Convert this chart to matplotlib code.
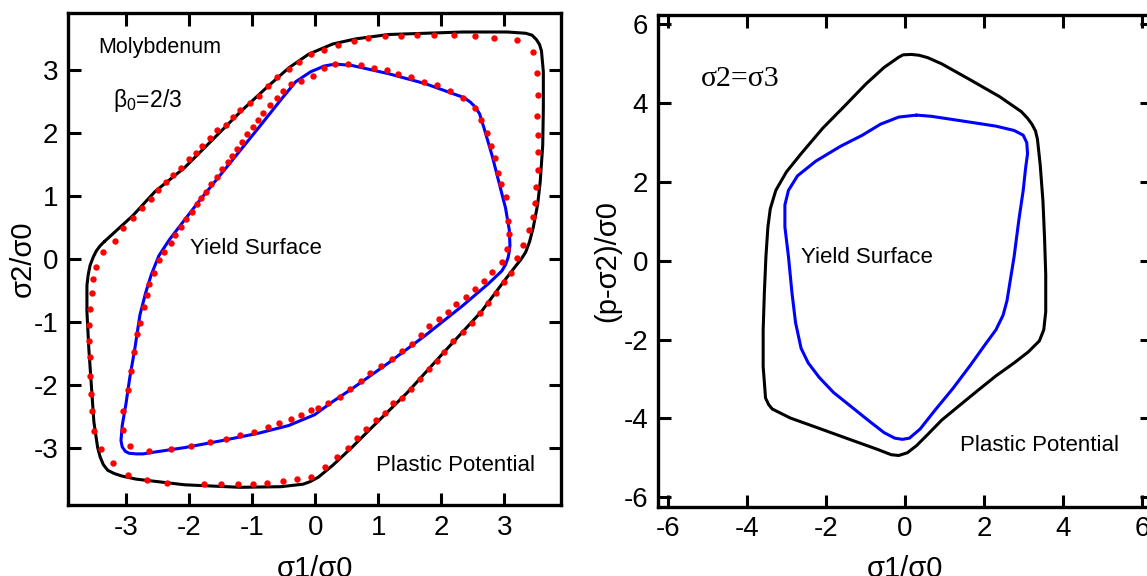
import numpy as np
import matplotlib.pyplot as plt

plt.rcParams['font.family'] = ['Liberation Sans', 'DejaVu Sans']
plt.rcParams['axes.unicode_minus'] = False
plt.rcParams['mathtext.fontset'] = 'custom'
plt.rcParams['mathtext.rm'] = 'Liberation Sans'

# --- left panel: Molybdenum, beta0 = 2/3 ---
# plastic potential (black line)
pp_x = [-3.34, -2.89, -2.54, -2.07, -1.72, -1.19, -0.78, -0.42, -0.10, 0.28, 0.64, 1.16, 1.75, 2.34,
        3.05, 3.34, 3.44, 3.51, 3.56, 3.59, 3.62, 3.62, 3.61, 3.57, 3.53, 3.46, 3.40, 3.34, 3.27, 3.19,
        2.99, 2.64, 2.05, 1.46, 0.87, 0.58, 0.28, 0.05, -0.08, -0.19, -0.54, -1.19, -2.07, -2.84,
        -3.07, -3.19, -3.29, -3.36, -3.41, -3.45, -3.51, -3.55, -3.59, -3.62, -3.62, -3.60, -3.57,
        -3.52, -3.47, -3.41, -3.34]
pp_y = [0.28, 0.69, 1.07, 1.45, 1.80, 2.33, 2.71, 3.03, 3.25, 3.41, 3.49, 3.56, 3.58, 3.60,
        3.60, 3.58, 3.55, 3.48, 3.40, 3.30, 2.97, 2.39, 1.80, 1.22, 0.87, 0.50, 0.27, 0.11, 0.00, -0.10,
        -0.36, -0.83, -1.47, -2.12, -2.70, -2.99, -3.27, -3.46, -3.53, -3.57, -3.61, -3.62, -3.58, -3.49,
        -3.44, -3.40, -3.35, -3.26, -3.14, -2.99, -2.58, -2.00, -1.42, -0.83, -0.42, -0.25, -0.10,
        0.03, 0.13, 0.21, 0.28]

# yield surface (blue line)
ys_x = [0.34, 0.58, 1.16, 1.75, 2.22, 2.36, 2.46, 2.54, 2.61, 2.69, 2.81, 2.93, 3.02, 3.08, 3.09,
        3.08, 3.06, 3.02, 2.96, 2.75, 2.34, 1.75, 1.16, 0.58, 0.28, -0.01, -0.42, -0.89, -1.48, -2.07,
        -2.54, -2.73, -2.84, -2.95, -3.01, -3.06, -3.08, -3.06, -3.00, -2.94, -2.86, -2.78, -2.69,
        -2.60, -2.48, -2.31, -1.84, -1.36, -0.89, -0.54, -0.31, -0.07, 0.05, 0.14, 0.25, 0.34]
ys_y = [3.09, 3.07, 2.94, 2.78, 2.61, 2.56, 2.49, 2.41, 2.30, 2.04, 1.63, 1.16, 0.81, 0.46, 0.22,
        0.12, 0.02, -0.09, -0.19, -0.39, -0.74, -1.21, -1.65, -2.06, -2.26, -2.47, -2.64, -2.76, -2.88, -2.99,
        -3.06, -3.09, -3.09, -3.08, -3.05, -2.98, -2.88, -2.64, -2.29, -1.88, -1.42, -0.89, -0.54,
        -0.25, 0.05, 0.31, 0.92, 1.51, 2.09, 2.53, 2.81, 2.97, 3.02, 3.06, 3.08, 3.09]

# red points on plastic potential
pp_pts_x = [-3.36, -3.18, -3.04, -2.89, -2.75, -2.61, -2.49, -2.36, -2.25, -2.13, -2.00, -1.89, -1.79,
            -1.67, -1.55, -1.42, -1.31, -1.19, -1.04, -0.89, -0.75, -0.60, -0.42, -0.26, -0.07, 0.14,
            0.37, 0.61, 0.84, 1.11, 1.36, 1.61, 1.89, 2.21, 2.53, 2.83, 3.21, 3.46, 3.52, 3.54, 3.52,
            3.54, 3.54, 3.53, 3.51, 3.49, 3.46, 3.40, 3.30, 3.21, 3.11, 2.99, 2.87, 2.74, 2.61, 2.49,
            2.34, 2.19, 2.05, 1.93, 1.81, 1.66, 1.52, 1.37, 1.24, 1.11, 0.96, 0.81, 0.66, 0.52, 0.34,
            0.15, -0.07, -0.29, -0.51, -0.76, -0.98, -1.23, -1.50, -1.77, -2.35, -2.66, -2.97, -3.21,
            -3.39, -3.50, -3.54, -3.56, -3.57, -3.57, -3.58, -3.58, -3.57, -3.54, -3.52, -3.47]
pp_pts_y = [0.11, 0.29, 0.49, 0.65, 0.81, 0.95, 1.10, 1.22, 1.33, 1.45, 1.58, 1.68, 1.80,
            1.92, 2.05, 2.12, 2.26, 2.37, 2.47, 2.59, 2.74, 2.88, 3.01, 3.12, 3.25, 3.32,
            3.39, 3.46, 3.51, 3.53, 3.53, 3.55, 3.55, 3.55, 3.53, 3.51, 3.48, 3.29, 2.95, 2.60, 2.27,
            1.97, 1.69, 1.41, 1.15, 0.89, 0.67, 0.46, 0.23, 0.02, -0.22, -0.37, -0.54, -0.70, -0.86, -1.01,
            -1.15, -1.30, -1.47, -1.62, -1.74, -1.91, -2.06, -2.20, -2.29, -2.44, -2.56, -2.69, -2.83, -2.99, -3.14,
            -3.29, -3.46, -3.49, -3.52, -3.55, -3.57, -3.57, -3.57, -3.57, -3.55, -3.50, -3.42, -3.24,
            -3.02, -2.73, -2.41, -2.14, -1.85, -1.56, -1.30, -1.05, -0.79, -0.54, -0.32, -0.12]

# red points on yield surface
ys_pts_x = [0.14, 0.31, 0.52, 0.72, 0.93, 1.14, 1.32, 1.52, 1.73, 1.94, 2.14, 2.35, 2.53, 2.63, 2.72,
            2.79, 2.86, 2.90, 2.95, 3.02, 3.06, 3.08, 3.05, 2.96, 2.81, 2.68, 2.54, 2.39, 2.24, 2.11,
            1.96, 1.81, 1.68, 1.53, 1.37, 1.22, 1.05, 0.87, 0.72, 0.55, 0.39, 0.21, 0.05, -0.07, -0.22,
            -0.39, -0.57, -0.75, -0.97, -1.19, -1.42, -1.67, -1.97, -2.29, -2.63, -2.93, -3.05, -3.04,
            -2.97, -2.92, -2.88, -2.82, -2.78, -2.72, -2.67, -2.63, -2.55, -2.47, -2.39, -2.29, -2.22,
            -2.13, -2.05, -1.96, -1.88, -1.81, -1.73, -1.65, -1.55, -1.47, -1.39, -1.32, -1.24, -1.16,
            -1.08, -0.99, -0.91, -0.82, -0.72, -0.61, -0.51, -0.39, -0.22, -0.04]
ys_pts_y = [3.03, 3.10, 3.09, 3.07, 3.03, 2.99, 2.93, 2.88, 2.81, 2.76, 2.66, 2.55, 2.39, 2.21, 2.00,
            1.79, 1.60, 1.37, 1.19, 0.99, 0.60, 0.40, 0.16, -0.04, -0.20, -0.35, -0.48, -0.61, -0.71, -0.84,
            -0.95, -1.06, -1.21, -1.35, -1.46, -1.58, -1.70, -1.81, -1.94, -2.06, -2.19, -2.29, -2.36, -2.39, -2.47,
            -2.54, -2.60, -2.67, -2.74, -2.79, -2.85, -2.90, -2.96, -3.02, -3.04, -2.96, -2.71, -2.41,
            -2.07, -1.77, -1.47, -1.19, -1.01, -0.76, -0.57, -0.39, -0.22, -0.02, 0.11, 0.25, 0.38,
            0.51, 0.63, 0.75, 0.87, 0.96, 1.07, 1.19, 1.30, 1.42, 1.54, 1.64, 1.75, 1.86,
            1.98, 2.09, 2.21, 2.32, 2.44, 2.56, 2.67, 2.77, 2.82, 2.91]

# --- right panel: sigma2 = sigma3 ---
pp2_x = [0.16, 0.35, 0.57, 0.93, 1.66, 2.39, 2.94, 3.10, 3.21, 3.30, 3.35, 3.42, 3.49, 3.53, 3.56,
         3.56, 3.51, 3.40, 3.12, 2.76, 2.30, 1.84, 1.39, 0.93, 0.57, 0.29, 0.06, -0.16, -0.35, -0.71,
         -1.35, -2.26, -2.90, -3.36, -3.45, -3.53, -3.59, -3.59, -3.56, -3.52, -3.47, -3.41, -3.27,
         -3.00, -2.63, -2.08, -1.53, -0.99, -0.53, -0.16, -0.05, 0.16]
pp2_y = [5.24, 5.22, 5.16, 5.00, 4.59, 4.17, 3.79, 3.62, 3.47, 3.30, 3.09, 2.44, 1.51, 0.58, -0.35,
         -1.29, -1.75, -2.03, -2.31, -2.59, -2.92, -3.29, -3.66, -4.04, -4.41, -4.69, -4.87, -4.94, -4.92, -4.78,
         -4.55, -4.22, -3.99, -3.76, -3.65, -3.48, -2.68, -1.75, -0.82, 0.11, 0.86, 1.32, 1.79,
         2.26, 2.72, 3.37, 3.93, 4.49, 4.91, 5.17, 5.23, 5.24]

ys2_x = [0.29, -0.16, -0.62, -1.08, -1.63, -2.26, -2.72, -2.95, -3.04, -3.04, -2.95, -2.86, -2.77,
         -2.63, -2.45, -2.17, -1.81, -1.35, -0.89, -0.53, -0.26, -0.07, 0.11, 0.38, 0.75, 1.21, 1.66,
         2.03, 2.30, 2.48, 2.58, 2.67, 2.76, 2.88, 2.99, 3.05, 3.10, 3.08, 2.99, 2.76, 2.30, 1.39,
         0.66, 0.29]
ys2_y = [3.70, 3.65, 3.47, 3.19, 2.91, 2.53, 2.16, 1.79, 1.42, 0.86, 0.11, -0.82, -1.57,
         -2.22, -2.59, -2.96, -3.34, -3.71, -4.08, -4.36, -4.50, -4.53, -4.50, -4.27, -3.80, -3.24, -2.64,
         -2.12, -1.75, -1.38, -1.01, -0.45, 0.11, 1.04, 1.79, 2.35, 2.72, 3.00, 3.19, 3.31, 3.42, 3.56,
         3.67, 3.70]

fig = plt.figure(figsize=(11.47, 5.76), dpi=100)
ax1 = fig.add_axes([0.0593, 0.1233, 0.4298, 0.854])
ax2 = fig.add_axes([0.5737, 0.1203, 0.4307, 0.8536])

line_kw = dict(lw=2.2, solid_joinstyle='round', solid_capstyle='round')
ax1.plot(pp_x, pp_y, color='black', zorder=2, **line_kw)
ax1.plot(ys_x, ys_y, color='#0000ff', zorder=2, **line_kw)
ax1.plot(pp_pts_x, pp_pts_y, 'o', color='#ff0000', ms=4.6, mec='none', zorder=3)
ax1.plot(ys_pts_x, ys_pts_y, 'o', color='#ff0000', ms=4.6, mec='none', zorder=3)

ax2.plot(pp2_x, pp2_y, color='black', **line_kw)
ax2.plot(ys2_x, ys2_y, color='#0000ff', **line_kw)

ax1.set_xlim(-3.92, 3.9)
ax1.set_ylim(-3.9, 3.9)
ax1.set_xticks([-3, -2, -1, 0, 1, 2, 3])
ax1.set_yticks([-3, -2, -1, 0, 1, 2, 3])

ax2.set_xlim(-6.25, 6.25)
ax2.set_ylim(-6.24, 6.24)
ax2.set_xticks([-6, -4, -2, 0, 2, 4, 6])
ax2.set_yticks([-6, -4, -2, 0, 2, 4, 6])

for ax in (ax1, ax2):
    for s in ax.spines.values():
        s.set_linewidth(2.4)
    ax.tick_params(direction='in', top=True, right=True, length=9, width=2.2,
                   labelsize=20, pad=7)

ax1.set_xlabel('σ1/σ0', fontsize=21, labelpad=10)
ax1.set_ylabel('σ2/σ0', fontsize=21, labelpad=-2)
ax2.set_xlabel('σ1/σ0', fontsize=21, labelpad=9)
ax2.set_ylabel('(p-σ2)/σ0', fontsize=21, labelpad=2)

ax1.text(-3.44, 3.35, 'Molybdenum', fontsize=15.5, va='center')
ax1.text(-3.21, 2.52, r'$\mathregular{\beta_0}$=2/3', fontsize=16.5, va='center')
ax1.text(-1.98, 0.16, 'Yield Surface', fontsize=16, va='center')
ax1.text(0.97, -3.27, 'Plastic Potential', fontsize=16, va='center')

ax2.text(-5.17, 4.61, 'σ2=σ3', fontsize=21.5, va='center', family='Liberation Serif')
ax2.text(-2.63, 0.08, 'Yield Surface', fontsize=16, va='center')
ax2.text(1.39, -4.68, 'Plastic Potential', fontsize=16, va='center')

fig.savefig('out.png', dpi=100)
